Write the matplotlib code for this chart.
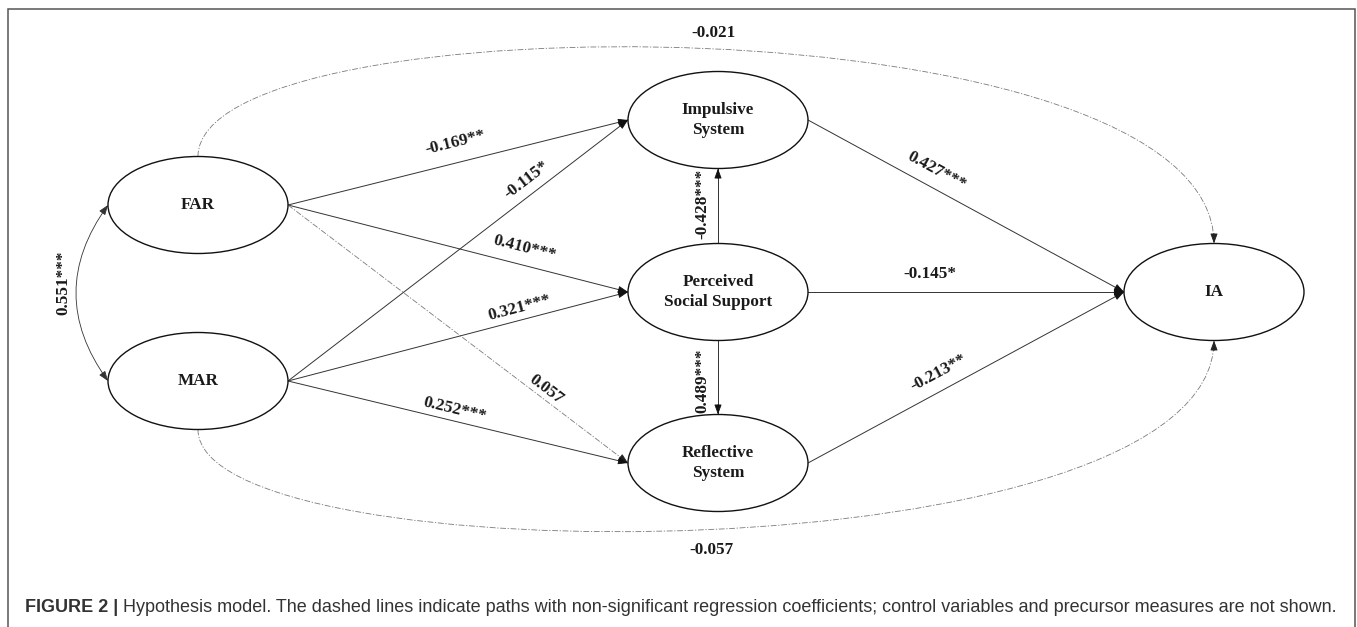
import matplotlib
matplotlib.use("Agg")
import numpy as np
import matplotlib.pyplot as plt
from matplotlib.patches import Ellipse, PathPatch
from matplotlib.path import Path
from matplotlib import font_manager

# ---------------- data ----------------
node_keys = ["FAR", "MAR", "IS", "PSS", "RS", "IA"]
node_labels = ["FAR", "MAR", "Impulsive\nSystem", "Perceived\nSocial Support",
               "Reflective\nSystem", "IA"]

edge_from = ["FAR", "FAR", "FAR", "MAR", "MAR", "MAR", "PSS", "PSS", "IS", "PSS", "RS"]
edge_to = ["IS", "PSS", "RS", "IS", "PSS", "RS", "IS", "RS", "IA", "IA", "IA"]
edge_coef = ["-0.169**", "0.410***", "0.057", "-0.115*", "0.321***", "0.252***",
             "-0.428***", "0.489***", "0.427***", "-0.145*", "-0.213**"]
edge_sig = [True, True, False, True, True, True, True, True, True, True, True]

curve_from = ["FAR", "MAR", "FAR"]
curve_to = ["IA", "IA", "MAR"]
curve_coef = ["-0.021", "-0.057", "0.551***"]
curve_sig = [False, False, True]

caption_bold = "FIGURE 2 |"
caption_text = ("Hypothesis model. The dashed lines indicate paths with non-significant "
                "regression coefficients; control variables and precursor measures are not shown.")

# ---------------- layout (pixel units) ----------------
W, H = 1357, 627
node_pos = {"FAR": (198, 205), "MAR": (198, 381), "IS": (718, 120),
            "PSS": (718, 292), "RS": (718, 463), "IA": (1214, 292)}
ell_w, ell_h = 180, 97
# label placement per straight edge: (fraction along, offset in text-up direction)
edge_lab = [(0.506, 20), (0.684, 17), (0.742, 9), (0.728, 14), (0.691, 12),
            (0.484, 11), (0.53, 16), (0.54, 16), (0.38, 17), (0.386, 18), (0.44, 17)]
# curve shapes: control y of cubic bezier / arc rad, and label centre
curve_ctrl = [-2, 578, 0.36]
curve_lab = [(713, 33, 0), (711, 550, 0), (63, 283, 90)]

line_col = "#333333"
dash_col = "#7a7a7a"
dash_style = (0, (7, 2, 1.5, 2))

serif = ["Liberation Serif", "DejaVu Serif"]


def has_font(name):
    try:
        font_manager.findfont(name, fallback_to_default=False)
        return True
    except Exception:
        return False


cap_family = "Liberation Sans Narrow" if has_font("Liberation Sans Narrow") else "Liberation Sans"

fig = plt.figure(figsize=(W / 100, H / 100), dpi=100)
ax = fig.add_axes([0, 0, 1, 1])
ax.set_xlim(0, W)
ax.set_ylim(H, 0)
ax.axis("off")

# frame
ax.plot([7.5, 7.5, 1354.5, 1354.5], [H, 8.5, 8.5, H], color="#555555", lw=1.1,
        solid_joinstyle="miter", clip_on=False)


def anchor(src, dst):
    (x0, y0), (x1, y1) = node_pos[src], node_pos[dst]
    if abs(x0 - x1) < 1:
        s = 1 if y1 > y0 else -1
        return (x0, y0 + s * ell_h / 2), (x1, y1 - s * ell_h / 2)
    return (x0 + ell_w / 2, y0), (x1 - ell_w / 2, y1)


def head(p_from, p_to, color):
    ax.annotate("", xy=p_to, xytext=p_from,
                arrowprops=dict(arrowstyle="-|>,head_length=0.6,head_width=0.22",
                                color=color, lw=0.6, shrinkA=0, shrinkB=0,
                                mutation_scale=10))


# straight edges
for src, dst, coef, sig, (t, off) in zip(edge_from, edge_to, edge_coef, edge_sig, edge_lab):
    p0, p1 = anchor(src, dst)
    p0, p1 = np.array(p0, float), np.array(p1, float)
    d = p1 - p0
    u = d / np.hypot(*d)
    if sig:
        ax.plot([p0[0], p1[0]], [p0[1], p1[1]], color=line_col, lw=0.7)
        head(p1 - u * 10, p1, "#111111")
    else:
        ax.plot([p0[0], p1[0]], [p0[1], p1[1]], color=dash_col, lw=0.6,
                linestyle=dash_style)
        head(p1 - u * 10, p1, "#222222")
    a = np.degrees(np.arctan2(-d[1], d[0]))
    if a > 90:
        a -= 180
    if a <= -90:
        a += 180
    ar = np.radians(a)
    up = np.array([-np.sin(ar), -np.cos(ar)])
    c = p0 + d * t + up * off
    ax.text(c[0], c[1], coef, rotation=a, rotation_mode="anchor", ha="center",
            va="center", fontsize=12.3, fontweight="bold", family=serif, color="#1a1a1a")

# curved edges
for i, (src, dst, coef, sig) in enumerate(zip(curve_from, curve_to, curve_coef, curve_sig)):
    (sx, sy), (tx, ty) = node_pos[src], node_pos[dst]
    if i == 0:  # over the top
        P = [(sx, sy - ell_h / 2), (sx, curve_ctrl[i]), (tx, curve_ctrl[i]), (tx, ty - ell_h / 2)]
    elif i == 1:  # under the bottom
        P = [(sx, sy + ell_h / 2), (sx, curve_ctrl[i]), (tx, curve_ctrl[i]), (tx, ty + ell_h / 2)]
    if i < 2:
        path = Path(P, [Path.MOVETO, Path.CURVE4, Path.CURVE4, Path.CURVE4])
        ax.add_patch(PathPatch(path, fill=False, edgecolor=dash_col, lw=0.6,
                               linestyle=dash_style))
        end = np.array(P[3], float)
        prev = np.array(P[2], float)
        u = (end - prev) / np.hypot(*(end - prev))
        head(end - u * 10, end, "#222222")
    else:
        pa = (sx - ell_w / 2, sy)
        pb = (tx - ell_w / 2, ty)
        ax.annotate("", xy=pb, xytext=pa,
                    arrowprops=dict(arrowstyle="<|-|>,head_length=0.6,head_width=0.22",
                                    connectionstyle=f"arc3,rad={curve_ctrl[i]}",
                                    color=line_col, lw=0.6, shrinkA=0, shrinkB=0,
                                    mutation_scale=10))
    lx, ly, rot = curve_lab[i]
    ax.text(lx, ly, coef, rotation=rot, ha="center", va="center", fontsize=12.3,
            fontweight="bold", family=serif, color="#1a1a1a")

# nodes
for k, lab in zip(node_keys, node_labels):
    x, y = node_pos[k]
    ax.add_patch(Ellipse((x, y), ell_w, ell_h, facecolor="white", edgecolor="#111111",
                         lw=1.0, zorder=3))
    ax.text(x, y, lab, ha="center", va="center", fontsize=12.3, fontweight="bold",
            family=serif, color="#1a1a1a", linespacing=1.32, zorder=4)

# caption, fitted to the reference width
cap_x0, cap_x1, cap_y = 25, 1338, 607
fig.canvas.draw()
r = fig.canvas.get_renderer()
size = 14.0
for _ in range(3):
    tb = ax.text(cap_x0, cap_y, caption_bold + " ", fontsize=size, fontweight="bold",
                 family=cap_family, va="center", ha="left", color="#333333")
    ext_b = tb.get_window_extent(r)
    tr = ax.text(0, cap_y, caption_text, fontsize=size, family=cap_family,
                 va="center", ha="left", color="#333333")
    ext_r = tr.get_window_extent(r)
    total = ext_b.width + ext_r.width
    tb.remove()
    tr.remove()
    size *= (cap_x1 - cap_x0) / total
tb = ax.text(cap_x0, cap_y, caption_bold + " ", fontsize=size, fontweight="bold",
             family=cap_family, va="center", ha="left", color="#333333")
ext_b = tb.get_window_extent(r)
ax.text(cap_x0 + ext_b.width, cap_y, caption_text, fontsize=size, family=cap_family,
        va="center", ha="left", color="#333333")

fig.savefig("out.png", dpi=100)
